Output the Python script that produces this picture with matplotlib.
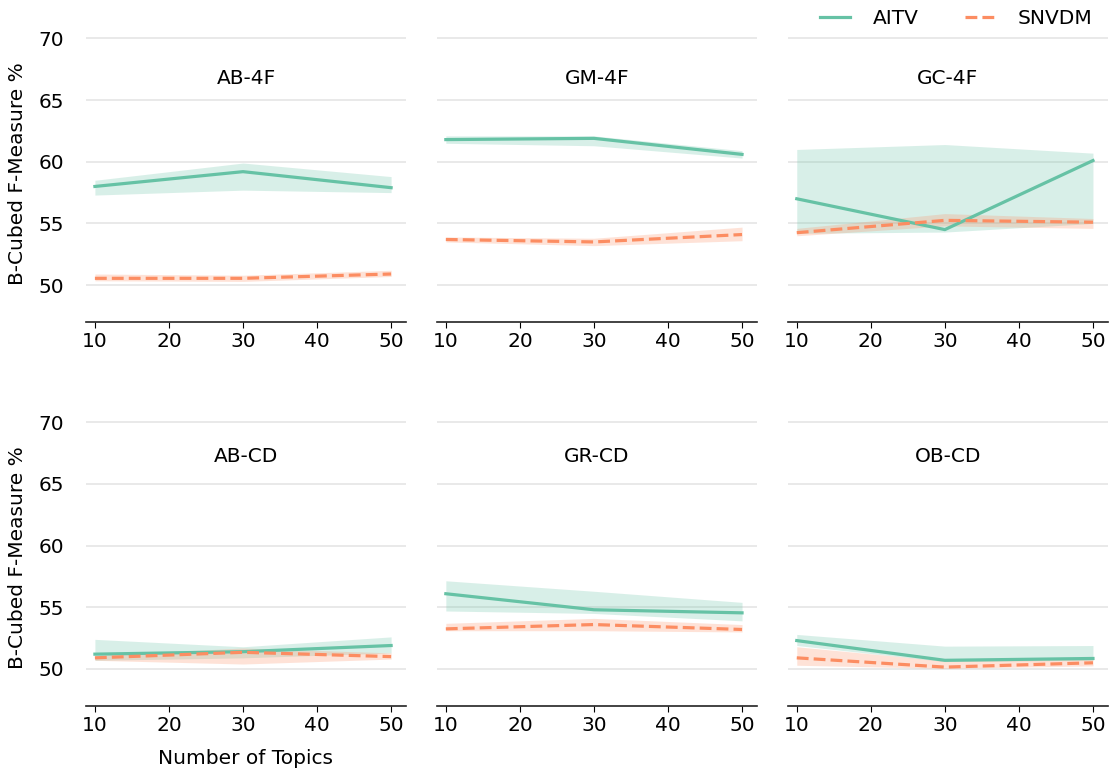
import numpy as np
import matplotlib
matplotlib.use('Agg')
import matplotlib.pyplot as plt

topics = [10, 30, 50]
datasets = ['AB-4F', 'GM-4F', 'GC-4F', 'AB-CD', 'GR-CD', 'OB-CD']

aitv_mean = {
    'AB-4F': [58.0, 59.2, 57.9],
    'GM-4F': [61.8, 61.9, 60.6],
    'GC-4F': [57.0, 54.5, 60.1],
    'AB-CD': [51.2, 51.4, 51.9],
    'GR-CD': [56.1, 54.8, 54.55],
    'OB-CD': [52.3, 50.7, 50.85],
}
aitv_low = {
    'AB-4F': [57.3, 57.7, 57.5],
    'GM-4F': [61.5, 61.3, 60.3],
    'GC-4F': [54.2, 54.3, 55.0],
    'AB-CD': [50.7, 50.9, 51.3],
    'GR-CD': [54.7, 54.5, 53.9],
    'OB-CD': [51.9, 50.6, 50.7],
}
aitv_high = {
    'AB-4F': [58.5, 59.9, 58.8],
    'GM-4F': [62.1, 62.1, 60.9],
    'GC-4F': [61.0, 61.4, 60.7],
    'AB-CD': [52.4, 51.8, 52.6],
    'GR-CD': [57.15, 56.3, 55.4],
    'OB-CD': [52.8, 51.85, 51.9],
}

snvdm_mean = {
    'AB-4F': [50.55, 50.55, 50.9],
    'GM-4F': [53.7, 53.5, 54.1],
    'GC-4F': [54.25, 55.25, 55.1],
    'AB-CD': [50.9, 51.35, 51.0],
    'GR-CD': [53.25, 53.6, 53.2],
    'OB-CD': [50.9, 50.15, 50.5],
}
snvdm_low = {
    'AB-4F': [50.35, 50.3, 50.7],
    'GM-4F': [53.5, 53.2, 53.6],
    'GC-4F': [54.0, 54.8, 54.6],
    'AB-CD': [50.7, 50.4, 50.8],
    'GR-CD': [53.1, 53.1, 53.0],
    'OB-CD': [50.3, 50.05, 50.25],
}
snvdm_high = {
    'AB-4F': [50.9, 50.8, 51.2],
    'GM-4F': [53.9, 53.8, 54.7],
    'GC-4F': [54.6, 55.8, 55.4],
    'AB-CD': [51.1, 51.7, 51.3],
    'GR-CD': [53.7, 54.1, 53.6],
    'OB-CD': [51.8, 50.65, 50.85],
}

green = '#66c2a5'
orange = '#fc8d62'
fs = 14.5

fig, axes = plt.subplots(2, 3, figsize=(11.1, 7.69), dpi=100, sharey=True)
fig.subplots_adjust(left=0.0775, right=0.998, bottom=0.082, top=0.966,
                    wspace=0.097, hspace=0.297)

for i, (ax, name) in enumerate(zip(axes.flat, datasets)):
    ax.fill_between(topics, aitv_low[name], aitv_high[name], color=green, alpha=0.25, lw=0)
    ax.fill_between(topics, snvdm_low[name], snvdm_high[name], color=orange, alpha=0.25, lw=0)
    ax.plot(topics, aitv_mean[name], color=green, lw=2.3, label='AITV')
    ax.plot(topics, snvdm_mean[name], color=orange, lw=2.3, ls='--', label='SNVDM')
    ax.set_xlim(8.8, 52)
    ax.set_ylim(47, 71)
    ax.set_xticks([10, 20, 30, 40, 50])
    ax.set_yticks([50, 55, 60, 65, 70])
    ax.grid(axis='y', color='#e5e5e5', lw=1.2)
    ax.set_axisbelow(True)
    for s in ['left', 'right', 'top']:
        ax.spines[s].set_visible(False)
    ax.spines['bottom'].set_color('#222222')
    ax.spines['bottom'].set_linewidth(1.2)
    ax.tick_params(axis='x', length=4, labelsize=fs, pad=3)
    ax.tick_params(axis='y', length=0, labelsize=fs, pad=16)
    ty = 0.822 if i < 3 else 0.843
    ax.text(0.5, ty, name, transform=ax.transAxes, ha='center', va='center', fontsize=fs)

for ax in axes[:, 0]:
    ax.set_ylabel('B-Cubed F-Measure %', fontsize=fs, labelpad=8)
axes[1, 0].set_xlabel('Number of Topics', fontsize=fs, labelpad=10)

handles, labels = axes[0, 0].get_legend_handles_labels()
fig.legend(handles, labels, loc='upper right', bbox_to_anchor=(1.0, 1.012), ncol=2,
           frameon=False, fontsize=fs, handlelength=1.5, handletextpad=1.1,
           columnspacing=2.3)

fig.savefig('out.png', dpi=100)
